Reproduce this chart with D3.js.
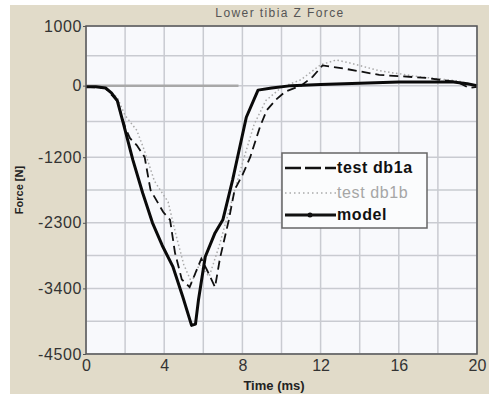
<!DOCTYPE html>
<html>
<head>
<meta charset="utf-8">
<script src="https://cdn.jsdelivr.net/npm/d3@7/dist/d3.min.js"></script>
<style>
  html, body { margin: 0; padding: 0; background: #fff; }
  svg { display: block; font-family: "Liberation Sans", Arial, sans-serif; }
</style>
</head>
<body>
<div id="chart"></div>
<script>
// DATA (time in ms, force in N)
const chartTitle = 'Lower tibia Z Force';
const xTicks = [0, 4, 8, 12, 16, 20];
const yTicks = [1000, 0, -1200, -2300, -3400, -4500];
const yTickLabels = ['1000', '0', '-1200', '-2300', '-3400', '-4500'];

const refLine = [[0, 0], [7.8, 0]];

const testDb1a = [
  [0, -20], [1, -40], [1.6, -260], [2.0, -700], [2.25, -880], [2.6, -1000], [3.0, -1200],
  [3.3, -1750], [3.95, -2120], [4.3, -2250], [4.55, -2800], [4.9, -3250], [5.3, -3380],
  [5.9, -2900], [6.2, -3100], [6.6, -3380], [6.85, -2900], [7.3, -2260], [7.6, -1750],
  [8.0, -1500], [8.4, -1200], [8.9, -690], [9.25, -410], [9.7, -240], [10.2, -100],
  [11, 0], [11.6, 150], [12.1, 340], [13.3, 280], [15, 180], [17.4, 130], [19, 60],
  [19.6, -40], [20, -20]
];

const testDb1b = [
  [0, -20], [1, -30], [1.6, -200], [2.0, -500], [2.6, -750], [3.0, -1100], [3.5, -1600],
  [4.2, -1950], [4.6, -2500], [5.0, -3000], [5.4, -3300], [5.8, -3000], [6.3, -3200],
  [6.8, -2700], [7.4, -2000], [8.0, -1300], [8.6, -650], [9.2, -250], [10, -30],
  [11, 100], [12, 350], [12.8, 430], [13.5, 380], [15, 250], [17, 150], [19, 80], [20, 0]
];

const model = [
  [0, -20], [0.5, -20], [1.0, -40], [1.3, -120], [1.6, -250], [1.9, -620], [2.4, -1250],
  [2.9, -1800], [3.4, -2300], [3.9, -2680], [4.45, -3040], [4.95, -3540], [5.4, -4020],
  [5.6, -4000], [5.75, -3600], [6.1, -2870], [6.6, -2470], [7.0, -2250], [7.5, -1580],
  [7.8, -1130], [8.2, -530], [8.8, -75], [9.5, -40], [10.5, 0], [12, 20], [14, 40],
  [16, 60], [18.8, 60], [19.5, 30], [20, 0]
];

const legendItems = ['test db1a', 'test db1b', 'model'];

const width = 489, height = 394;
const margin = { top: 26, right: 12, bottom: 40, left: 86 };

const svg = d3.select('#chart').append('svg')
  .attr('width', width)
  .attr('height', height);

// panel background
svg.append('rect')
  .attr('x', 10).attr('y', 5)
  .attr('width', width - 10).attr('height', height - 5)
  .attr('fill', '#e1dbc9');

const x = d3.scaleLinear().domain([0, 20]).range([margin.left, width - margin.right]);
const y = d3.scaleLinear().domain([-4500, 1000]).range([height - margin.bottom, margin.top]);

// plot area
svg.append('rect')
  .attr('x', x(0)).attr('y', y(1000))
  .attr('width', x(20) - x(0)).attr('height', y(-4500) - y(1000))
  .attr('fill', '#f8f9fc');

// GRID (ticks plus half steps)
const mids = arr => arr.slice(1).map((v, i) => (v + arr[i]) / 2);
const xGrid = xTicks.concat(mids(xTicks));
const yGrid = yTicks.concat(mids(yTicks));

svg.append('g')
  .selectAll('line')
  .data(xGrid)
  .join('line')
  .attr('x1', d => x(d)).attr('x2', d => x(d))
  .attr('y1', y(1000)).attr('y2', y(-4500))
  .attr('stroke', '#c9cbd1').attr('stroke-width', 1.5);

svg.append('g')
  .selectAll('line')
  .data(yGrid)
  .join('line')
  .attr('y1', d => y(d)).attr('y2', d => y(d))
  .attr('x1', x(0)).attr('x2', x(20))
  .attr('stroke', '#c9cbd1').attr('stroke-width', 1.5);

// AXES
const gx = svg.append('g')
  .attr('transform', `translate(0,${y(-4500)})`)
  .call(d3.axisBottom(x).tickValues(xTicks).tickSize(0).tickPadding(6));
gx.select('.domain').remove();
gx.selectAll('text')
  .attr('font-size', 16).attr('fill', '#333')
  .attr('font-family', '"Liberation Sans", Arial, sans-serif');

const gy = svg.append('g')
  .attr('transform', `translate(${x(0)},0)`)
  .call(d3.axisLeft(y).tickValues(yTicks).tickFormat((d, i) => yTickLabels[i]).tickSize(3).tickPadding(1));
gy.select('.domain').remove();
gy.selectAll('line').attr('stroke', '#555');
gy.selectAll('text')
  .attr('font-size', 16).attr('fill', '#333').attr('letter-spacing', 0.6)
  .attr('font-family', '"Liberation Sans", Arial, sans-serif');

// LINES
const line = d3.line().x(d => x(d[0])).y(d => y(d[1]));

svg.append('path').datum(refLine)
  .attr('d', line).attr('fill', 'none')
  .attr('stroke', '#a8a8a8').attr('stroke-width', 2.5);

svg.append('path').datum(testDb1b)
  .attr('d', line).attr('fill', 'none')
  .attr('stroke', '#a9a9a9').attr('stroke-width', 1.5)
  .attr('stroke-dasharray', '1.5,2.5');

svg.append('path').datum(testDb1a)
  .attr('d', line).attr('fill', 'none')
  .attr('stroke', '#111').attr('stroke-width', 1.8)
  .attr('stroke-dasharray', '9,5');

svg.append('path').datum(model)
  .attr('d', line).attr('fill', 'none')
  .attr('stroke', '#0a0a0a').attr('stroke-width', 3)
  .attr('stroke-linejoin', 'round');

// frame
svg.append('rect')
  .attr('x', x(0)).attr('y', y(1000))
  .attr('width', x(20) - x(0)).attr('height', y(-4500) - y(1000))
  .attr('fill', 'none').attr('stroke', '#555').attr('stroke-width', 1.5);

// TITLES
svg.append('text')
  .attr('x', 280).attr('y', 17)
  .attr('text-anchor', 'middle')
  .attr('font-size', 12).attr('letter-spacing', 1.4)
  .attr('fill', '#555')
  .text(chartTitle);

svg.append('text')
  .attr('x', 274).attr('y', 390)
  .attr('text-anchor', 'middle')
  .attr('font-size', 13).attr('font-weight', 'bold')
  .attr('fill', '#222')
  .text('Time (ms)');

svg.append('text')
  .attr('transform', 'translate(23,190) rotate(-90)')
  .attr('text-anchor', 'middle')
  .attr('font-size', 11).attr('font-weight', 'bold')
  .attr('fill', '#222')
  .text('Force [N]');

// LEGEND
const lg = svg.append('g').attr('transform', 'translate(282,153)');
lg.append('rect')
  .attr('width', 145).attr('height', 75)
  .attr('fill', '#fbfcfd').attr('stroke', '#666').attr('stroke-width', 1.5);

const legendStyles = [
  { stroke: '#111', width: 2.5, dash: '16,4', color: '#111', weight: 'bold' },
  { stroke: '#aaa', width: 1.5, dash: '1.5,3', color: '#a6a6a6', weight: 'normal' },
  { stroke: '#111', width: 3, dash: null, color: '#111', weight: 'bold' }
];
const rowY = [15, 40, 62];

legendItems.forEach((name, i) => {
  const s = legendStyles[i];
  lg.append('line')
    .attr('x1', 3).attr('x2', 54)
    .attr('y1', rowY[i]).attr('y2', rowY[i])
    .attr('stroke', s.stroke).attr('stroke-width', s.width)
    .attr('stroke-dasharray', s.dash);
  lg.append('text')
    .attr('x', 55).attr('y', rowY[i] + 5)
    .attr('font-size', 16).attr('font-weight', s.weight)
    .attr('letter-spacing', 0.6)
    .attr('fill', s.color)
    .text(name);
});
lg.append('circle').attr('cx', 28).attr('cy', rowY[2]).attr('r', 2.5).attr('fill', '#111');
</script>
</body>
</html>
